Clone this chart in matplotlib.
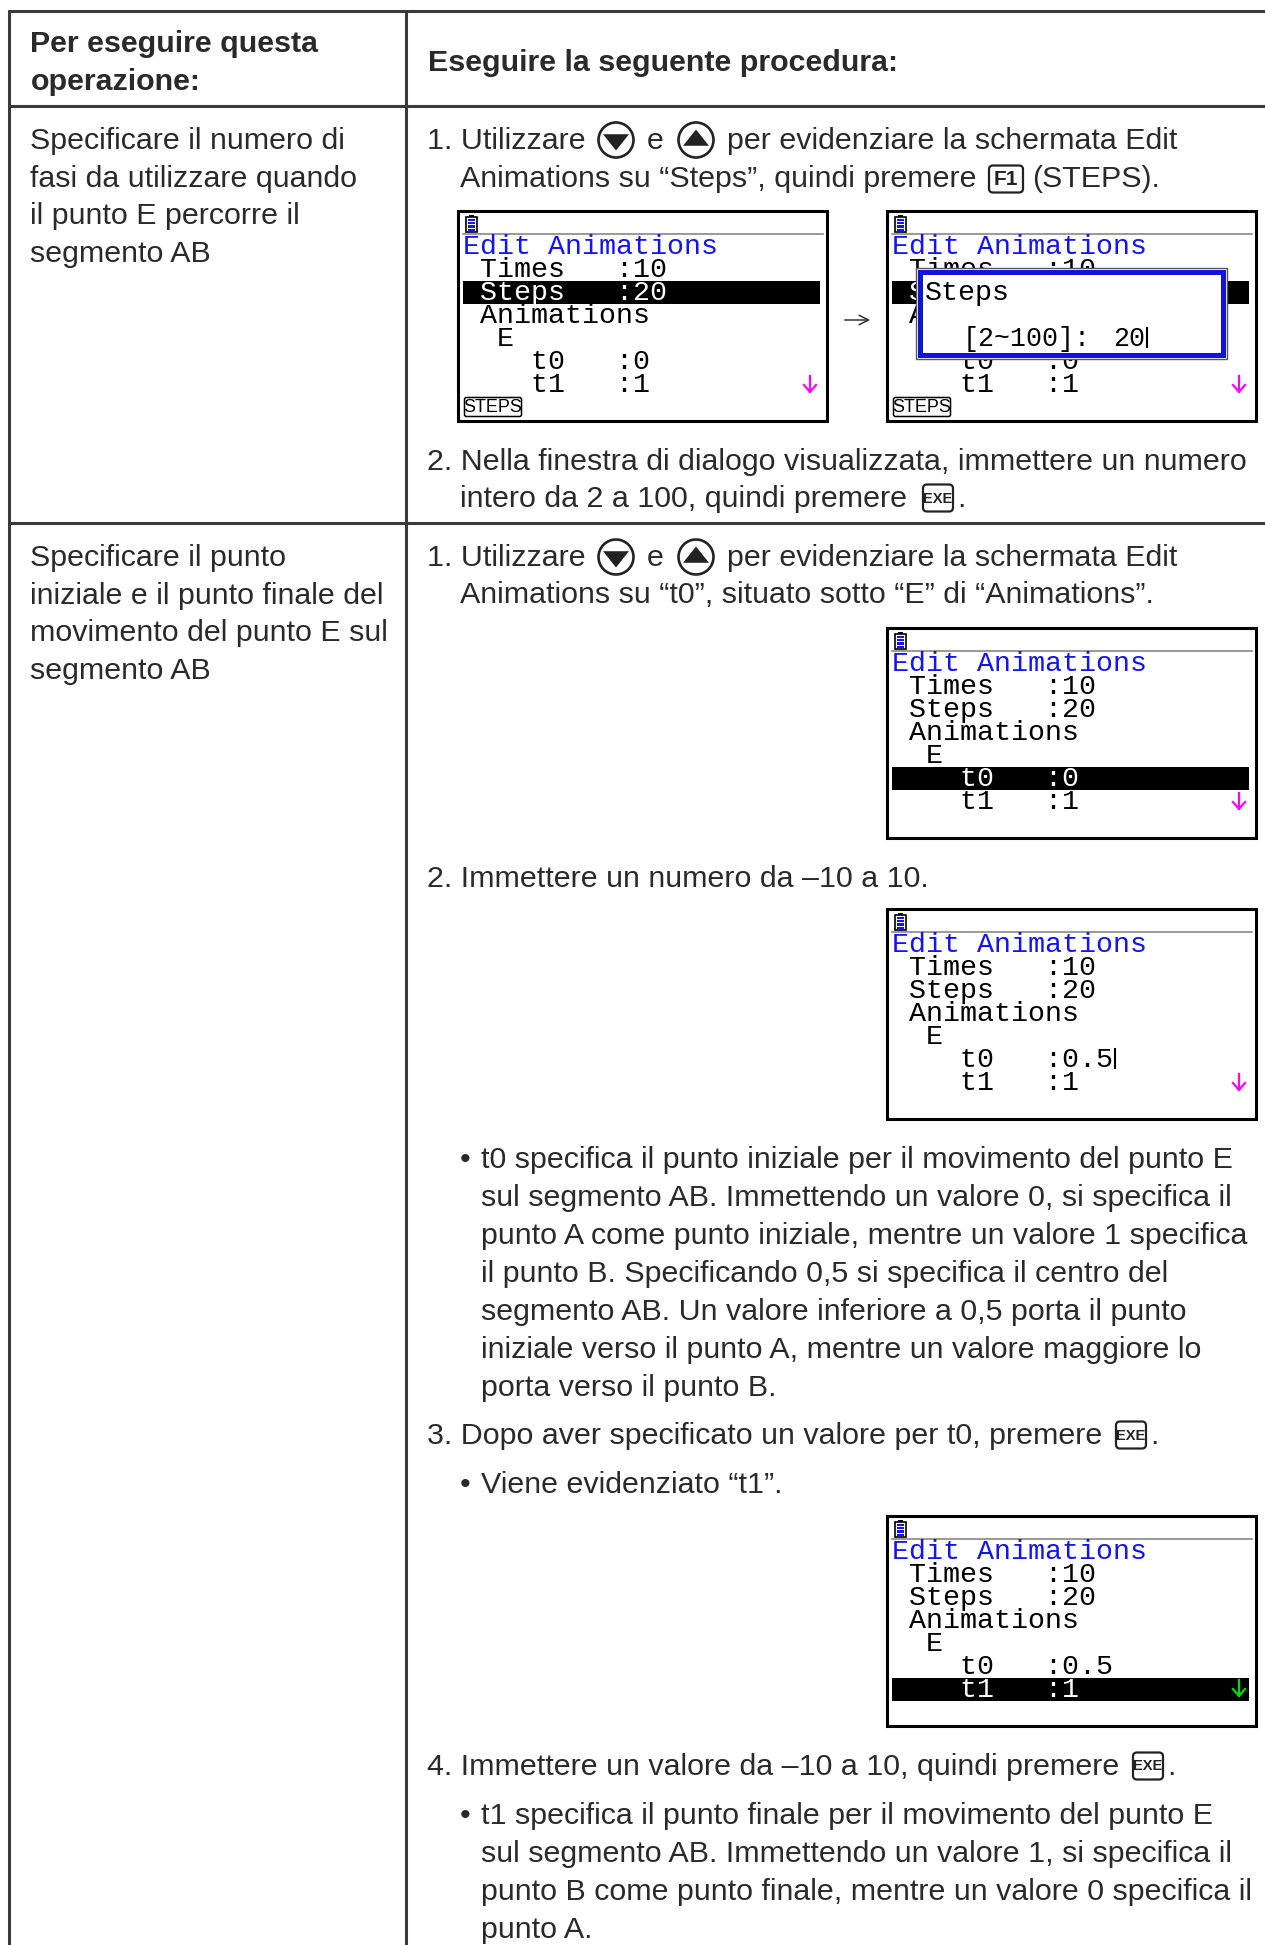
import matplotlib
matplotlib.use("Agg")
import matplotlib.pyplot as plt
from matplotlib.patches import FancyBboxPatch, Rectangle, Circle, Polygon

W, H = 1265, 1945
TEXT = "#2b2a2a"
LINE = "#3a3a3a"
SIZE = 21.83
MONO = 20.4
SANS = "Liberation Sans"

header_left = ["Per eseguire questa", "operazione:"]
header_right = "Eseguire la seguente procedura:"
row1_left = ["Specificare il numero di", "fasi da utilizzare quando", "il punto E percorre il", "segmento AB"]
row2_left = ["Specificare il punto", "iniziale e il punto finale del", "movimento del punto E sul", "segmento AB"]
t0_note = [
    "t0 specifica il punto iniziale per il movimento del punto E",
    "sul segmento AB. Immettendo un valore 0, si specifica il",
    "punto A come punto iniziale, mentre un valore 1 specifica",
    "il punto B. Specificando 0,5 si specifica il centro del",
    "segmento AB. Un valore inferiore a 0,5 porta il punto",
    "iniziale verso il punto A, mentre un valore maggiore lo",
    "porta verso il punto B.",
]
t1_note = [
    "t1 specifica il punto finale per il movimento del punto E",
    "sul segmento AB. Immettendo un valore 1, si specifica il",
    "punto B come punto finale, mentre un valore 0 specifica il",
    "punto A.",
]
screen_title = "Edit Animations"
rows_base = [" Times   :10", " Steps   :20", " Animations", "  E", "    t0   :0", "    t1   :1"]
rows_half = [" Times   :10", " Steps   :20", " Animations", "  E", "    t0   :0.5", "    t1   :1"]


def txt(ax, x, y, s, weight="normal", size=SIZE, color=TEXT, ha="left", zorder=3):
    return ax.text(x, y, s, fontsize=size, family=SANS, weight=weight, color=color,
                   ha=ha, va="baseline", zorder=zorder)


def block(ax, x, y, lines, step=37.6, weight="normal"):
    for i, line in enumerate(lines):
        txt(ax, x, y + i * step, line, weight=weight)


def round_btn(ax, cx, cy, down=True):
    ax.add_patch(Circle((cx, cy), 17.5, facecolor="white", edgecolor="#222222", linewidth=1.9))
    d = 10.5 if down else -10.5
    ax.add_patch(Polygon([(cx - 13, cy - d * 0.55), (cx + 13, cy - d * 0.55), (cx, cy + d)],
                         closed=True, facecolor="#222222", edgecolor="none"))


def key(ax, cx, cy, label, w=30, h=27, size=10.5):
    ax.add_patch(FancyBboxPatch((cx - w / 2 + 3, cy - h / 2 + 3), w - 6, h - 6,
                                boxstyle="round,pad=3,rounding_size=4",
                                facecolor="white", edgecolor="#222222", linewidth=1.6))
    ax.text(cx, cy + 0.5, label, fontsize=size, family=SANS, weight="bold", color="#222222",
            ha="center", va="center")


def battery(ax, sx, sy):
    ax.add_patch(Rectangle((sx + 8, sy + 6), 11, 15, facecolor="white", edgecolor="black", linewidth=1.2, zorder=3))
    ax.add_patch(Rectangle((sx + 11, sy + 3.5), 5, 2.5, facecolor="black", edgecolor="none", zorder=3))
    for k in range(4):
        ax.add_patch(Rectangle((sx + 9.7, sy + 8 + k * 3.2), 7.6, 2.1, facecolor="#1818e0", edgecolor="none", zorder=4))


def down_arrow(ax, sx, sy, color):
    ax.plot([sx + 352, sx + 352], [sy + 165, sy + 181], color=color, lw=1.6, zorder=5)
    ax.plot([sx + 346, sx + 352, sx + 358], [sy + 174, sy + 181, sy + 174], color=color, lw=1.6, zorder=5)


def mono(ax, x, y, s, color="black", zorder=4, size=MONO):
    ax.text(x, y, s, fontsize=size, family="Liberation Mono", color=color,
            ha="left", va="baseline", zorder=zorder)


def screen(ax, sx, sy, rows, highlight=None, softkey=False, arrow="#ff00ff", dialog=False, cursor=None):
    ax.add_patch(Rectangle((sx, sy), 369, 210, facecolor="white", edgecolor="black", linewidth=2.2, zorder=2))
    battery(ax, sx, sy)
    ax.plot([sx + 5, sx + 365], [sy + 23, sy + 23], color="#888888", lw=1.2, zorder=3)
    mono(ax, sx + 5, sy + 43, screen_title, color="#1414f0")
    for i, row in enumerate(rows):
        base = sy + 66 + i * 23
        col = "black"
        if highlight == i:
            ax.add_patch(Rectangle((sx + 5, base - 19), 357, 23, facecolor="black", edgecolor="none", zorder=3))
            col = "white"
        mono(ax, sx + 5, base, row, color=col)
    down_arrow(ax, sx, sy + (0 if highlight != 5 else -1), arrow)
    if softkey:
        ax.add_patch(FancyBboxPatch((sx + 7, sy + 187), 56, 18, boxstyle="round,pad=0.5,rounding_size=2",
                                    facecolor="white", edgecolor="black", linewidth=1.1, zorder=3))
        ax.text(sx + 35, sy + 196.5, "STEPS", fontsize=13, family=SANS, color="black",
                ha="center", va="center", zorder=4)
    if cursor:
        ax.plot([sx + cursor[0]] * 2, [sy + cursor[1] - 18, sy + cursor[1] + 1], color="black", lw=1.5, zorder=5)
    if dialog:
        ax.add_patch(Rectangle((sx + 29, sy + 57), 311, 91, facecolor="white", edgecolor="#555555", linewidth=1, zorder=6))
        ax.add_patch(Rectangle((sx + 33, sy + 61), 303, 83, facecolor="white", edgecolor="#1414d8", linewidth=3.6, zorder=6))
        mono(ax, sx + 38, sy + 89, "Steps", zorder=7)
        mono(ax, sx + 76, sy + 135, "[2~100]:", zorder=7, size=19.2)
        mono(ax, sx + 226, sy + 135, "20", zorder=7, size=19.2)
        ax.plot([sx + 260, sx + 260], [sy + 117, sy + 136], color="black", lw=1.5, zorder=8)


def make_figure():
    fig = plt.figure(figsize=(W / 100, H / 100), dpi=100, facecolor="white")
    ax = fig.add_axes([0, 0, 1, 1])
    ax.set_xlim(0, W)
    ax.set_ylim(H, 0)
    ax.axis("off")

    # griglia della tabella
    for y in (10.5, 106, 523):
        ax.plot([8, W], [y, y], color=LINE, lw=2.2, solid_capstyle="butt")
    for x in (9, 406):
        ax.plot([x, x], [10, H], color=LINE, lw=2.2, solid_capstyle="butt")

    block(ax, 30.5, 52, header_left, weight="bold")
    txt(ax, 428, 71, header_right, weight="bold")
    block(ax, 30.5, 149, row1_left)
    block(ax, 30.5, 566, row2_left)

    # riga 1
    for y0 in (149, 566):
        txt(ax, 427, y0, "1. Utilizzare")
        round_btn(ax, 616, y0 - 9, down=True)
        txt(ax, 647, y0, "e")
        round_btn(ax, 696, y0 - 9, down=False)
        txt(ax, 727, y0, "per evidenziare la schermata Edit")
    txt(ax, 460, 187, "Animations su “Steps”, quindi premere")
    key(ax, 1006, 179, "F1", w=34, size=15)
    txt(ax, 1032, 187, "(STEPS).")

    screen(ax, 458, 211, rows_base, highlight=1, softkey=True)
    ax.annotate("", xy=(873, 320), xytext=(842, 320),
                arrowprops=dict(arrowstyle="->", color="#333333", lw=1.1, mutation_scale=17))
    screen(ax, 887, 211, rows_base, highlight=1, softkey=True, dialog=True)

    txt(ax, 427, 470, "2. Nella finestra di dialogo visualizzata, immettere un numero")
    txt(ax, 460, 507, "intero da 2 a 100, quindi premere")
    key(ax, 938, 498, "EXE")
    txt(ax, 957, 507, ".")

    # riga 2
    txt(ax, 460, 603, "Animations su “t0”, situato sotto “E” di “Animations”.")
    screen(ax, 887, 628, rows_base, highlight=4)
    txt(ax, 427, 887, "2. Immettere un numero da –10 a 10.")
    screen(ax, 887, 909, rows_half, cursor=(228, 158))

    txt(ax, 460, 1168, "•")
    block(ax, 481, 1168, t0_note, step=38)
    txt(ax, 427, 1444, "3. Dopo aver specificato un valore per t0, premere")
    key(ax, 1131, 1435, "EXE")
    txt(ax, 1150, 1444, ".")
    txt(ax, 460, 1493, "•")
    txt(ax, 481, 1493, "Viene evidenziato “t1”.")
    screen(ax, 887, 1516, rows_half, highlight=5, arrow="#00e000")
    txt(ax, 427, 1775, "4. Immettere un valore da –10 a 10, quindi premere")
    key(ax, 1148, 1766, "EXE")
    txt(ax, 1167, 1775, ".")
    txt(ax, 460, 1824, "•")
    block(ax, 481, 1824, t1_note, step=38)
    return fig


if __name__ == "__main__":
    fig = make_figure()
    fig.savefig("out.png", dpi=100)
